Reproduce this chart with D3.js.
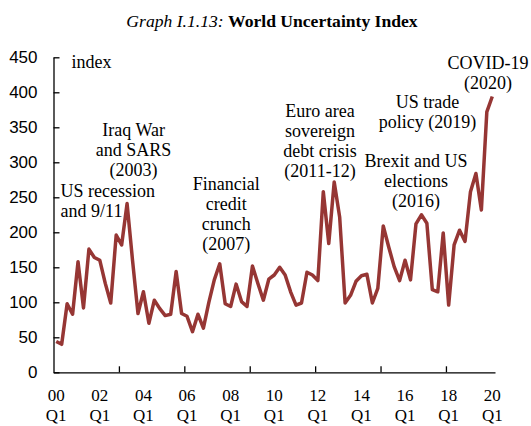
<!DOCTYPE html>
<html>
<head>
<meta charset="utf-8">
<script src="https://cdn.jsdelivr.net/npm/d3@7"></script>
<style>
  body { margin: 0; background: #fff; }
  svg { display: block; font-family: "Liberation Serif", "Times New Roman", serif; }
  .tick text { font-size: 17px; fill: #000; }
  .note { font-size: 18px; fill: #000; }
</style>
</head>
<body>
<svg class="chart" width="531" height="426"></svg>
<script>
const width = 531;
const height = 426;

// 数据：2000Q1 - 2020Q1 季度
const years = d3.range(2000, 2021);
const quarters = ["Q1", "Q2", "Q3", "Q4"];
const categories = [];
years.forEach(y => quarters.forEach(q => { if (y < 2020 || q === "Q1") categories.push(y + q); }));

// 世界不确定性指数
const wui = [
  44, 40, 98, 83, 158, 92, 176, 164, 160, 127,
  99, 196, 182, 241, 160, 84, 115, 70, 103, 91,
  81, 83, 144, 84, 80, 58, 83, 63, 100, 132,
  155, 98, 94, 126, 101, 94, 152, 127, 103, 133,
  139, 150, 139, 115, 96, 99, 143, 139, 131, 258,
  184, 272, 222, 99, 110, 130, 138, 140, 99, 120,
  209, 179, 151, 131, 160, 132, 212, 225, 213, 118,
  115, 199, 96, 182, 203, 187, 258, 284, 232, 372,
  394
];

const yTicks = [0, 50, 100, 150, 200, 250, 300, 350, 400, 450];
const xTickLabels = ["00", "02", "04", "06", "08", "10", "12", "14", "16", "18", "20"];

// 注释文字
const notes = [
  { lines: ["US recession", "and 9/11"], q: 0.8, v: 250, anchor: "start" },
  { lines: ["Iraq War", "and SARS", "(2003)"], q: 14.2, v: 338, anchor: "middle" },
  { lines: ["Financial", "credit", "crunch", "(2007)"], q: 31.2, v: 260, anchor: "middle" },
  { lines: ["Euro area", "sovereign", "debt crisis", "(2011-12)"], q: 48.4, v: 365, anchor: "middle" },
  { lines: ["Brexit and US", "elections", "(2016)"], q: 66, v: 293, anchor: "middle" },
  { lines: ["US trade", "policy (2019)"], q: 68.1, v: 378, anchor: "middle" },
  { lines: ["COVID-19", "(2020)"], q: 79.2, v: 433, anchor: "middle" }
];

const svg = d3.select(".chart");

const xScale = d3.scaleBand()
  .domain(categories)
  .range([53.5, 495]);

const yScale = d3.scaleLinear()
  .domain([0, 450])
  .range([372.3, 57.3]);

// 分类索引 -> 像素（用于注释）
const qScale = d3.scaleLinear()
  .domain([0, categories.length - 1])
  .range([xScale(categories[0]) + xScale.bandwidth() / 2,
          xScale(categories[categories.length - 1]) + xScale.bandwidth() / 2]);

// 标题
const title = svg.append("text")
  .attr("x", 272)
  .attr("y", 27)
  .attr("text-anchor", "middle")
  .style("font-size", "17.6px");
title.append("tspan").style("font-style", "italic").text("Graph I.1.13: ");
title.append("tspan").style("font-weight", "bold").text("World Uncertainty Index");

// y轴
const yAxis = d3.axisLeft(yScale)
  .tickValues(yTicks)
  .tickSizeInner(-6)
  .tickSizeOuter(0)
  .tickPadding(16);

svg.append("g")
  .attr("class", "y-axis")
  .attr("transform", `translate(${xScale.range()[0]}, 0)`)
  .call(yAxis)
  .call(g => g.selectAll("line, path").attr("stroke", "#000").attr("stroke-width", 1.3));

// x轴刻度（每12个季度一个刻度，位于分类边界）
const edgeScale = d3.scaleLinear()
  .domain([0, categories.length])
  .range(xScale.range());

svg.append("g")
  .attr("class", "x-axis")
  .attr("transform", `translate(0, ${yScale(0)})`)
  .call(d3.axisBottom(edgeScale)
    .tickValues(d3.range(12, categories.length, 12))
    .tickSizeInner(-6)
    .tickSizeOuter(0)
    .tickFormat(""))
  .call(g => g.selectAll("line, path").attr("stroke", "#000").attr("stroke-width", 1.3));

// x轴标签（每8个季度）
const labelCats = categories.filter((d, i) => i % 8 === 0);
const xLabels = svg.append("g")
  .attr("class", "x-labels")
  .selectAll("text")
  .data(labelCats)
  .enter()
  .append("text")
  .attr("class", "tick")
  .attr("text-anchor", "middle")
  .attr("transform", d => `translate(${xScale(d) + xScale.bandwidth() / 2}, 0)`)
  .style("font-size", "17px");

xLabels.append("tspan").attr("x", 0).attr("y", 401).text((d, i) => xTickLabels[i]);
xLabels.append("tspan").attr("x", 0).attr("y", 421).text(d => d.slice(4));

// 折线
const line = d3.line()
  .x((d, i) => xScale(categories[i]) + xScale.bandwidth() / 2)
  .y(d => yScale(d));

svg.append("path")
  .datum(wui)
  .attr("fill", "none")
  .attr("stroke", "#963634")
  .attr("stroke-width", 3.5)
  .attr("stroke-linejoin", "round")
  .attr("d", line);

// "index" 标签
svg.append("text")
  .attr("class", "note")
  .attr("x", qScale(2.8))
  .attr("y", yScale(435))
  .text("index");

// 注释
notes.forEach(n => {
  const t = svg.append("text")
    .attr("class", "note")
    .attr("text-anchor", n.anchor);
  n.lines.forEach((s, i) => {
    t.append("tspan")
      .attr("x", qScale(n.q))
      .attr("y", yScale(n.v) + i * 20)
      .text(s);
  });
});
</script>
</body>
</html>
